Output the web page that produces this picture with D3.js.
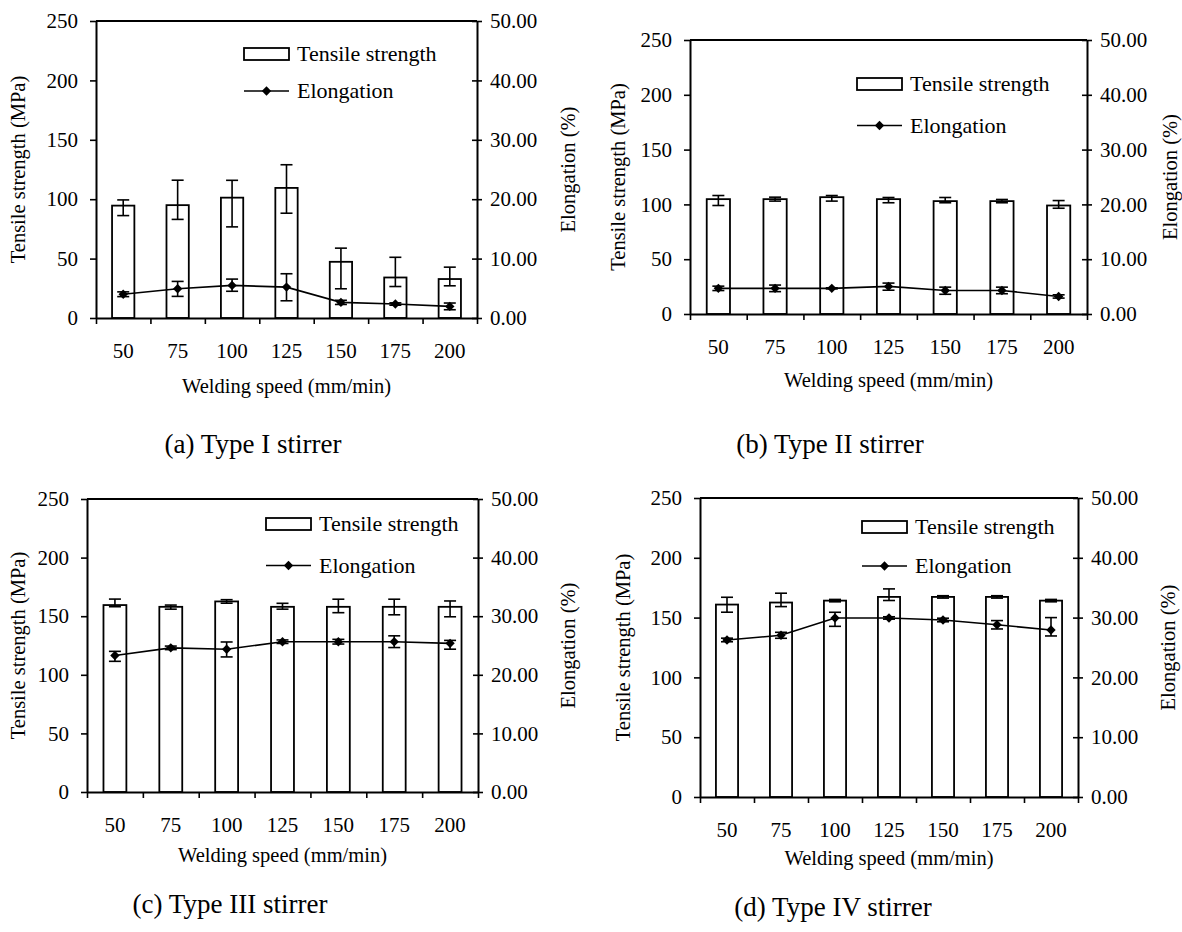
<!DOCTYPE html>
<html>
<head>
<meta charset="utf-8">
<script src="https://cdn.jsdelivr.net/npm/d3@7/dist/d3.min.js"></script>
<style>
  html, body { margin: 0; padding: 0; background: #fff; }
  svg { display: block; }
  text { font-family: "Liberation Serif", "Times New Roman", serif; fill: #000; }
</style>
</head>
<body>
<svg id="chart" width="1182" height="932" font-family="Liberation Serif, serif"></svg>
<script>
// ---------- DATA ----------
const speeds = ["50", "75", "100", "125", "150", "175", "200"];
const tsTicks = [0, 50, 100, 150, 200, 250];
const elTicks = [0, 10, 20, 30, 40, 50];

// (a) Type I stirrer
const tsA = [94.6, 95, 101.3, 109.5, 47.3, 34.1, 32.8];
const tsUpA = [4.8, 21, 14.6, 19.5, 11.5, 17, 10];
const tsDownA = [8.4, 12, 24.6, 21.3, 22.7, 7.6, 5.7];
const elA = [4.0, 4.93, 5.49, 5.2, 2.63, 2.35, 1.95];
const elUpA = [0.4, 1.23, 1.06, 2.25, 0.35, 0.2, 0.57];
const elDownA = [0.4, 1.29, 0.99, 2.3, 0.35, 0.2, 0.56];

// (b) Type II stirrer
const tsB = [104.8, 104.8, 106.6, 104.8, 103, 103, 99];
const tsUpB = [3.3, 1.8, 1.5, 1.5, 3.3, 1.5, 4.5];
const tsDownB = [5.8, 1.8, 3.6, 3.3, 1.5, 1.5, 2.5];
const elB = [4.68, 4.68, 4.68, 5.04, 4.3, 4.3, 3.2];
const elUpB = [0.4, 0.6, 0.1, 0.6, 0.6, 0.6, 0.3];
const elDownB = [0.4, 0.6, 0.1, 0.7, 0.7, 0.6, 0.3];

// (c) Type III stirrer
const tsC = [159.5, 158, 162.6, 158, 158, 158, 158];
const tsUpC = [5.1, 1.5, 1.5, 3, 6.5, 6.5, 5];
const tsDownC = [1.4, 2, 1.5, 2, 5, 6.8, 8.5];
const elC = [23.3, 24.6, 24.35, 25.65, 25.65, 25.65, 25.37];
const elUpC = [0.7, 0.3, 1.25, 0.3, 0.4, 1.0, 0.5];
const elDownC = [1.0, 0.3, 1.3, 0.3, 0.4, 1.0, 1.0];

// (d) Type IV stirrer
const tsD = [160.9, 162.6, 164.2, 167.3, 167.3, 167.3, 164.2];
const tsUpD = [6.1, 7.8, 1, 6.7, 1, 1, 1];
const tsDownD = [6.4, 3.4, 1, 3, 1, 1, 1];
const elD = [26.26, 27.04, 29.94, 29.94, 29.6, 28.8, 27.93];
const elUpD = [0.3, 0.5, 0.95, 0.2, 0.3, 0.7, 2.07];
const elDownD = [0.3, 0.5, 1.4, 0.2, 0.3, 0.7, 1.0];

const captions = ["(a) Type I stirrer", "(b) Type II stirrer", "(c) Type III stirrer", "(d) Type IV stirrer"];
const xTitle = "Welding speed (mm/min)";
const yTitle = "Tensile strength (MPa)";
const y2Title = "Elongation (%)";
const legendLabels = ["Tensile strength", "Elongation"];

// ---------- LAYOUT ----------
const panels = [
  { ts: tsA, tsUp: tsUpA, tsDown: tsDownA, el: elA, elUp: elUpA, elDown: elDownA,
    left: 96, right: 477, top: 21, bottom: 318, legX: 244, legY: 48, legGap: 37,
    yTitleX: 18, y2TitleX: 568, xTitleDy: 75, capX: 253, capY: 453 },
  { ts: tsB, tsUp: tsUpB, tsDown: tsDownB, el: elB, elUp: elUpB, elDown: elDownB,
    left: 690, right: 1087, top: 40, bottom: 314, legX: 857, legY: 78, legGap: 41.5,
    yTitleX: 618, y2TitleX: 1170, xTitleDy: 73, capX: 830, capY: 453 },
  { ts: tsC, tsUp: tsUpC, tsDown: tsDownC, el: elC, elUp: elUpC, elDown: elDownC,
    left: 87, right: 478, top: 499, bottom: 792, legX: 266, legY: 518, legGap: 41.5,
    yTitleX: 18, y2TitleX: 568, xTitleDy: 70, capX: 230, capY: 913 },
  { ts: tsD, tsUp: tsUpD, tsDown: tsDownD, el: elD, elUp: elUpD, elDown: elDownD,
    left: 700, right: 1078, top: 498, bottom: 797, legX: 862, legY: 521, legGap: 39,
    yTitleX: 623, y2TitleX: 1168, xTitleDy: 68, capX: 833, capY: 916 }
];

const svg = d3.select("#chart");
const FONT = '"Liberation Serif", "Times New Roman", serif';
const TICK_FONT = 21, TITLE_FONT = 20.5, LEG_FONT = 22, CAP_FONT = 27;
const diamond = d3.symbol().type(d3.symbolSquare).size(44);

panels.forEach((p, i) => {
  const g = svg.append("g");
  const x = d3.scaleBand().domain(speeds).range([p.left, p.right]).paddingInner(0.59).paddingOuter(0.295);
  const xIdx = d3.scaleLinear().domain([0, speeds.length]).range([p.left, p.right]);
  const y = d3.scaleLinear().domain([0, 250]).range([p.bottom, p.top]);
  const y2 = d3.scaleLinear().domain([0, 50]).range([p.bottom, p.top]);
  const cx = d => x(d) + x.bandwidth() / 2;

  // bars
  g.selectAll("rect.bar").data(speeds).join("rect")
    .attr("x", d => x(d)).attr("width", x.bandwidth())
    .attr("y", (d, k) => y(p.ts[k])).attr("height", (d, k) => y(0) - y(p.ts[k]))
    .attr("fill", "#fff").attr("stroke", "#000").attr("stroke-width", 1.8);

  // error bars helper
  function errBars(vals, ups, downs, sc, cap) {
    const eg = g.append("g").attr("stroke", "#000").attr("stroke-width", 1.6).attr("fill", "none");
    speeds.forEach((d, k) => {
      const yt = sc(vals[k] + ups[k]), yb = sc(vals[k] - downs[k]), xc = cx(d);
      eg.append("line").attr("x1", xc).attr("x2", xc).attr("y1", yt).attr("y2", yb);
      eg.append("line").attr("x1", xc - cap / 2).attr("x2", xc + cap / 2).attr("y1", yt).attr("y2", yt);
      eg.append("line").attr("x1", xc - cap / 2).attr("x2", xc + cap / 2).attr("y1", yb).attr("y2", yb);
    });
  }
  errBars(p.ts, p.tsUp, p.tsDown, y, 12);

  // elongation line
  const line = d3.line().x((v, k) => cx(speeds[k])).y(v => y2(v));
  g.append("path").datum(p.el).attr("d", line).attr("fill", "none").attr("stroke", "#000").attr("stroke-width", 1.6);
  errBars(p.el, p.elUp, p.elDown, y2, 12);
  g.selectAll("path.mk").data(p.el).join("path").attr("class", "mk")
    .attr("d", diamond)
    .attr("transform", (v, k) => `translate(${cx(speeds[k])},${y2(v)}) rotate(45)`)
    .attr("fill", "#000");

  // axes
  const axStyle = sel => {
    sel.attr("font-family", FONT).attr("font-size", TICK_FONT);
    sel.select(".domain").attr("stroke", "#000").attr("stroke-width", 2);
    sel.selectAll(".tick line").attr("stroke", "#000").attr("stroke-width", 1.6);
    sel.selectAll("text").style("font-family", FONT).style("font-size", TICK_FONT + "px").attr("fill", "#000");
  };
  const left = g.append("g").attr("transform", `translate(${p.left},0)`)
    .call(d3.axisLeft(y).tickValues(tsTicks).tickSize(6).tickSizeOuter(0).tickPadding(12));
  axStyle(left);

  const right = g.append("g").attr("transform", `translate(${p.right},0)`)
    .call(d3.axisRight(y2).tickValues(elTicks).tickSize(5).tickSizeOuter(0).tickPadding(8).tickFormat(d3.format(".2f")));
  axStyle(right);
  right.selectAll(".tick line").attr("x1", -5);

  const bottom = g.append("g").attr("transform", `translate(0,${p.bottom})`)
    .call(d3.axisBottom(xIdx).tickValues(d3.range(speeds.length + 1)).tickSize(6).tickSizeOuter(0).tickFormat(""));
  axStyle(bottom);

  // top frame line
  g.append("line").attr("x1", p.left).attr("x2", p.right).attr("y1", p.top).attr("y2", p.top)
    .attr("stroke", "#000").attr("stroke-width", 2);

  // x tick labels (category centers)
  g.selectAll("text.xl").data(speeds).join("text").attr("class", "xl")
    .attr("x", d => cx(d)).attr("y", p.bottom + 40).attr("text-anchor", "middle")
    .style("font-size", TICK_FONT + "px").text(d => d);

  // axis titles
  g.append("text").attr("x", (p.left + p.right) / 2).attr("y", p.bottom + p.xTitleDy)
    .attr("text-anchor", "middle").style("font-size", TITLE_FONT + "px").text(xTitle);
  g.append("text").attr("transform", `translate(${p.yTitleX},${(p.top + p.bottom) / 2}) rotate(-90)`)
    .attr("text-anchor", "middle").attr("dy", "0.35em").style("font-size", TITLE_FONT + "px").text(yTitle);
  g.append("text").attr("transform", `translate(${p.y2TitleX},${(p.top + p.bottom) / 2}) rotate(-90)`)
    .attr("text-anchor", "middle").attr("dy", "0.35em").style("font-size", TITLE_FONT + "px").text(y2Title);

  // legend
  const lg = g.append("g").attr("transform", `translate(${p.legX},${p.legY})`);
  lg.append("rect").attr("width", 45).attr("height", 12).attr("fill", "#fff").attr("stroke", "#000").attr("stroke-width", 1.8);
  lg.append("text").attr("x", 53).attr("y", 13).style("font-size", LEG_FONT + "px").text(legendLabels[0]);
  const ly = 6 + p.legGap;
  lg.append("line").attr("x1", 0).attr("x2", 45).attr("y1", ly).attr("y2", ly).attr("stroke", "#000").attr("stroke-width", 1.6);
  lg.append("path").attr("d", diamond).attr("transform", `translate(22.5,${ly}) rotate(45)`).attr("fill", "#000");
  lg.append("text").attr("x", 53).attr("y", ly + 7).style("font-size", LEG_FONT + "px").text(legendLabels[1]);

  // caption
  g.append("text").attr("x", p.capX).attr("y", p.capY).attr("text-anchor", "middle")
    .style("font-size", CAP_FONT + "px").text(captions[i]);
});
</script>
</body>
</html>
